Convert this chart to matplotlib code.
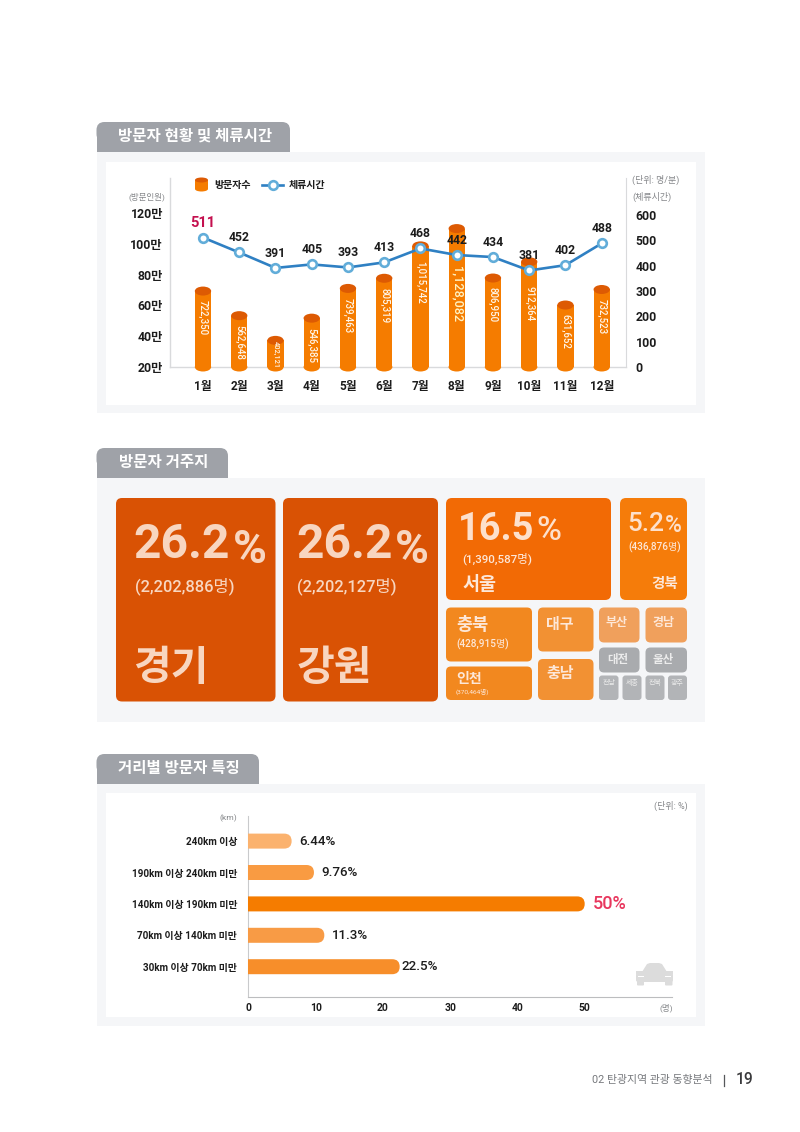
# -*- coding:utf-8 -*-
import matplotlib
matplotlib.use("Agg")
import matplotlib.pyplot as plt
from matplotlib.patches import Ellipse, FancyBboxPatch, Polygon, Rectangle

FONT = ["Roboto", "Noto Sans CJK KR", "DejaVu Sans"]
plt.rcParams["font.family"] = FONT

W, H = 800, 1132

# monthly visitors and stay time
months = ["1월", "2월", "3월", "4월", "5월", "6월", "7월", "8월", "9월", "10월", "11월", "12월"]
visitors = [722350, 562648, 402121, 546385, 739463, 805319, 1015742, 1128082, 806950, 912364, 631652, 732523]
stay_minutes = [511, 452, 391, 405, 393, 413, 468, 442, 434, 381, 402, 488]
visitor_ticks = [20, 40, 60, 80, 100, 120]
stay_ticks = [0, 100, 200, 300, 400, 500, 600]

# visitor residence
regions = ["경기", "강원", "서울", "경북", "충북", "인천", "대구", "충남",
           "부산", "경남", "대전", "울산", "전남", "세종", "전북", "광주"]
region_share = [26.2, 26.2, 16.5, 5.2]
region_count = ["2,202,886", "2,202,127", "1,390,587", "436,876", "428,915", "370,464"]

# distance bands
distance_bands = ["240km 이상", "190km 이상 240km 미만", "140km 이상 190km 미만",
                  "70km 이상 140km 미만", "30km 이상 70km 미만"]
distance_share = [6.44, 9.76, 50, 11.3, 22.5]
distance_labels = ["6.44%", "9.76%", "50%", "11.3%", "22.5%"]
distance_ticks = [0, 10, 20, 30, 40, 50]

ORANGE = "#f57c00"
CAP = "#dd5a03"
BLUE = "#2f80c3"
RING = "#62add9"
INK = "#1c1c1c"
GREY = "#85878a"
PANEL = "#f5f6f8"
TAB = "#9fa2a8"
PEACH = "#f8d6c0"
CELL_TEXT = "#fde7d8"


def axes_at(x0, y0, x1, y1):
    # axes placed by page pixels, y counted from the top
    return fig.add_axes([x0 / W, 1 - y1 / H, (x1 - x0) / W, (y1 - y0) / H])


def box(x0, y0, x1, y1, color, r=0, z=1):
    if r == 0:
        p = Rectangle((x0, y0), x1 - x0, y1 - y0, fc=color, ec="none", zorder=z)
    else:
        p = FancyBboxPatch((x0, y0), x1 - x0, y1 - y0, boxstyle="round,pad=0,rounding_size=%s" % r,
                           fc=color, ec="none", zorder=z)
    page.add_patch(p)


def label(x, y, s, px, color=INK, ha="left", weight="normal", z=6):
    page.text(x, y, s, fontsize=px * 0.72, color=color, ha=ha, va="center", fontweight=weight, zorder=z)


def section(title, tab_right, tab_top, top, bottom, inner=None):
    # rounded top of the tab, squared off lower down
    box(96.5, tab_top, tab_right, tab_top + 20, TAB, r=8, z=1)
    box(96.5, tab_top + 10, tab_right, top, TAB, z=1)
    box(96.5, top, 705, bottom, PANEL, z=2)
    if inner:
        box(106, inner[0], 696, inner[1], "white", z=3)
    label((96.5 + tab_right) / 2 + 1.5, (tab_top + top) / 2 - 0.5, title, 15.5, "white", "center", "bold")


fig = plt.figure(figsize=(W / 100, H / 100), dpi=100, facecolor="white")
page = fig.add_axes([0, 0, 1, 1], zorder=0)
page.set_xlim(0, W)
page.set_ylim(H, 0)
page.axis("off")

section("방문자 현황 및 체류시간", 290, 122, 152, 413, (162, 404.5))
section("방문자 거주지", 228, 448, 478, 722)
section("거리별 방문자 특징", 259, 754, 784, 1026, (792.5, 1017))

# ---- visitors and stay time ----
ax = axes_at(170, 178, 626, 367)
ax.set_zorder(2)
ax.patch.set_visible(False)
px_per_man = 154 / 100
ax.set_ylim(20, 20 + 189 / px_per_man)
ax.set_xlim(-0.91, 11.67)
cap_h = 9 / px_per_man
bar_w = 0.45
values_man = [v / 10000 for v in visitors]
ax.bar(range(12), [v - cap_h / 2 - 20 for v in values_man], bottom=20, width=bar_w, color=ORANGE, zorder=3)
for i, v in enumerate(values_man):
    ax.add_patch(Ellipse((i, 20), bar_w, cap_h, fc=ORANGE, ec="none", zorder=3, clip_on=False))
    ax.add_patch(Ellipse((i, v - cap_h / 2), bar_w, cap_h, fc=CAP, ec="none", zorder=4))
    size, off, color = 6.9, 10, "#fff6ea"
    if i == 2:
        size, off = 5.4, 3.8
    if i == 6:
        off = 14
    if i == 7:
        size, off, color = 9.2, 30, "#fff3c4"
    if i == 9:
        off = 20.5
    ax.annotate(format(visitors[i], ","), (i, v), xytext=(0, -off), textcoords="offset points",
                rotation=-90, ha="center", va="top", fontsize=size, color=color, fontweight="medium", zorder=5)
ax.set_xticks(range(12), months, fontsize=8.5, fontweight="bold", color=INK)
ax.set_yticks(visitor_ticks, ["%d만" % t for t in visitor_ticks], fontsize=8.8, fontweight="bold", color=INK)
ax.tick_params(axis="x", length=0, pad=9)
ax.tick_params(axis="y", length=0, pad=5)
for name in ["top", "right"]:
    ax.spines[name].set_visible(False)
for name in ["left", "bottom"]:
    ax.spines[name].set_color("#d9dadc")
    ax.spines[name].set_linewidth(1)

ax2 = ax.twinx()
ax2.set_zorder(3)
ax2.patch.set_visible(False)
ax2.set_ylim(0, 600 * 189 / 152)
ax2.plot(range(12), stay_minutes, color=BLUE, lw=1.9, zorder=5, marker="o", ms=6.2, mfc="white", mec=RING, mew=1.9)
for i, m in enumerate(stay_minutes):
    first = i == 0
    ax2.annotate(str(m), (i, m), xytext=(0, 10.5), textcoords="offset points", ha="center", va="center",
                 fontsize=10.5 if first else 8.8, fontweight="bold", color="#c4104f" if first else INK, zorder=6)
ax2.set_yticks(stay_ticks, [str(t) for t in stay_ticks], fontsize=8.8, fontweight="bold", color=INK)
ax2.tick_params(axis="y", length=0, pad=7)
for name in ["top", "left", "bottom"]:
    ax2.spines[name].set_visible(False)
ax2.spines["right"].set_color("#d9dadc")

label(147, 197, "(방문인원)", 8.5, GREY, "center")
label(632, 180, "(단위: 명/분)", 9, GREY)
label(632, 196.5, "(체류시간)", 9, GREY)

# legend icons
box(195, 180, 208, 189, ORANGE, z=5)
page.add_patch(Ellipse((201.5, 189), 13, 5, fc=ORANGE, ec="none", zorder=5))
page.add_patch(Ellipse((201.5, 180), 13, 5, fc=CAP, ec="none", zorder=6))
label(214, 185, "방문자수", 10, INK, weight="bold")
page.plot([262, 283], [185, 185], color=BLUE, lw=1.9, zorder=5)
page.plot([272.5], [185], marker="o", ms=6.2, mfc="white", mec=RING, mew=1.9, zorder=6)
label(289, 185, "체류시간", 10, INK, weight="bold")

# ---- residence treemap ----
cells = [
    (116, 498, 275.5, 701.5, "#d95204"), (283, 498, 438, 701.5, "#d95204"),
    (446, 498, 611, 600, "#f26a05"), (620, 498, 687, 600, "#f57c0a"),
    (446, 607.5, 532, 661.5, "#f2881f"), (446, 666.5, 532, 700, "#f2881f"),
    (538, 607.5, 593.5, 651.5, "#f29133"), (538, 659, 593.5, 700, "#f29133"),
    (599, 607.5, 639.5, 642.5, "#f0a05c"), (645.5, 607.5, 687, 642.5, "#f0a05c"),
    (599, 647.5, 639.5, 672.5, "#a9abae"), (645.5, 647.5, 687, 672.5, "#a9abae"),
    (599, 675.5, 618.5, 700, "#b2b4b7"), (622.5, 675.5, 641.5, 700, "#b2b4b7"),
    (645.5, 675.5, 664.5, 700, "#b2b4b7"), (668, 675.5, 687, 700, "#b2b4b7"),
]
radii = [6, 6, 6, 6, 5, 5, 5, 5, 5, 5, 5, 5, 3, 3, 3, 3]
for (x0, y0, x1, y1, c), r in zip(cells, radii):
    box(x0, y0, x1, y1, c, r=r, z=4)

# share, percent sign, count and name inside the big cells
label(133, 545, "%.1f" % region_share[0], 48, PEACH, weight="bold")
label(233, 550, "%", 46, PEACH, weight="bold")
label(135, 586.5, "(%s명)" % region_count[0], 16.5, PEACH, weight="medium")
label(133, 669, regions[0], 41, PEACH, weight="bold")
label(296, 545, "%.1f" % region_share[1], 48, PEACH, weight="bold")
label(395, 550, "%", 46, PEACH, weight="bold")
label(297, 586.5, "(%s명)" % region_count[1], 16.5, PEACH, weight="medium")
label(297, 669, regions[1], 41, PEACH, weight="bold")
label(458, 530, "%.1f" % region_share[2], 38, "#fde0cc", weight="bold")
label(536, 531, "%", 34, "#fde0cc", weight="medium")
label(462, 559, "(%s명)" % region_count[2], 11.5, CELL_TEXT, weight="medium")
label(462, 585, regions[2], 18.5, CELL_TEXT, weight="bold")
label(627, 524, "%.1f" % region_share[3], 26, "#fde0cc", weight="medium")
label(664.5, 525.5, "%", 23, "#fde0cc", weight="medium")
label(628, 547, "(%s명)" % region_count[3], 10, CELL_TEXT, weight="medium")
label(678, 584, regions[3], 14.5, CELL_TEXT, "right", "bold")
label(456, 625, regions[4], 17.5, CELL_TEXT, weight="bold")
label(456, 644, "(%s명)" % region_count[4], 10, CELL_TEXT, weight="medium")
label(456, 679, regions[5], 14, CELL_TEXT, weight="bold")
label(456, 692, "(%s명)" % region_count[5], 6.5, CELL_TEXT)
label(546, 625, regions[6], 15, CELL_TEXT, weight="bold")
label(546, 674, regions[7], 15, CELL_TEXT, weight="bold")
label(617, 622.5, regions[8], 12, CELL_TEXT, "center", "bold")
label(663, 622.5, regions[9], 12, CELL_TEXT, "center", "bold")
label(617.5, 659, regions[10], 11.5, "#ececec", "center", "bold")
label(663, 659, regions[11], 11.5, "#ececec", "center", "bold")
for i, cx in zip(range(12, 16), [609, 632, 655, 677.5]):
    label(cx, 683.5, regions[i], 7, "#ececec", "center")

# ---- distance bands ----
bx = axes_at(248.3, 816, 672, 997)
bx.set_zorder(2)
bx.patch.set_visible(False)
px_per_unit = 336.4 / 50
px_per_row = 31.4
bx.set_xlim(0, 423.7 / px_per_unit)
rows = list(range(len(distance_bands)))
bx.set_ylim(4 + (997 - 966.7) / px_per_row, 4 - (966.7 - 816) / px_per_row)
bar_colors = ["#fbb26e", "#f99b42", ORANGE, "#f89b45", "#f78e2a"]
r_units = 7.5 / px_per_unit
aspect = px_per_unit / px_per_row
bar_h = 15 / px_per_row
for row, v, c, s in zip(rows, distance_share, bar_colors, distance_labels):
    # start left of zero so only the right end stays rounded after clipping
    bx.add_patch(FancyBboxPatch((-r_units * 2, row - bar_h / 2), v + r_units * 2, bar_h,
                                boxstyle="round,pad=0,rounding_size=%s" % r_units,
                                mutation_aspect=aspect, fc=c, ec="none", zorder=3))
    top = v == 50
    gap = 1.5 if v == 22.5 else 5.5
    bx.annotate(s, (v, row), xytext=(gap, 0), textcoords="offset points", va="center",
                fontsize=13 if top else 9.6, color="#e8365d" if top else INK, fontweight="medium")
bx.set_yticks(rows, distance_bands, fontsize=7.1, fontweight="bold", color=INK)
bx.set_xticks(distance_ticks, [str(t) for t in distance_ticks], fontsize=7.4, fontweight="bold", color=INK)
bx.tick_params(axis="y", length=0, pad=8)
bx.tick_params(axis="x", length=0, pad=4.5)
for name in ["top", "right"]:
    bx.spines[name].set_visible(False)
bx.spines["left"].set_color("#c9cacc")
bx.spines["bottom"].set_color("#bcbdbf")

label(228, 818, "(km)", 8.5, GREY, "center")
label(666, 1007.5, "(명)", 8.5, GREY, "center")
label(671, 806, "(단위: %)", 9, GREY, "center")

# car icon
car = "#dcdcdc"
page.add_patch(Polygon([(642, 972), (647, 964), (650, 963), (659, 963), (662, 964), (667, 972)],
                       closed=True, fc=car, ec="none", zorder=5))
page.add_patch(Polygon([(636, 971), (642, 971), (668, 971), (673, 971), (673, 974), (636, 974)],
                       closed=True, fc=car, ec="none", zorder=5))
box(636, 973, 673, 982, car, r=2, z=5)
box(637, 980, 644, 985.5, car, r=1, z=5)
box(665, 980, 672.5, 985.5, car, r=1, z=5)
box(638, 976, 644, 977.2, "white", z=6)
box(665, 976, 671, 977.2, "white", z=6)

# ---- page footer ----
label(712, 1080, "02 탄광지역 관광 동향분석", 10.9, "#77797d", "right")
page.plot([723.5, 723.5], [1075, 1086], color="#55575a", lw=0.9, zorder=5)
label(736, 1079.5, "19", 15.5, "#3a3a3c", weight="medium")

fig.savefig("out.png", dpi=100, facecolor="white")
